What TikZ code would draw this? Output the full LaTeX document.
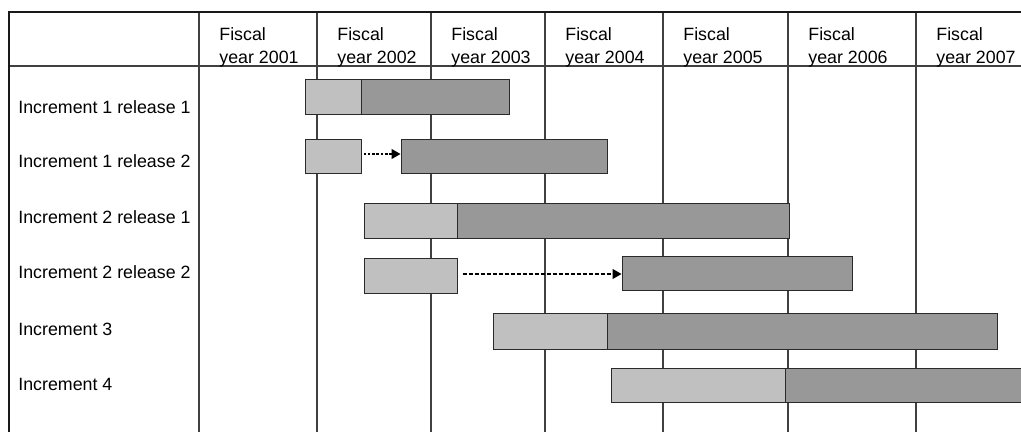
\documentclass[tikz,border=0pt]{standalone}
\usepackage{fontspec}
\setmainfont{Liberation Sans}
\usetikzlibrary{fit,arrows.meta}
\definecolor{lgray}{HTML}{C0C0C0}
\definecolor{dgray}{HTML}{989898}
\definecolor{edge}{HTML}{2A2A2A}
\begin{document}
\begin{tikzpicture}[x=0.5pt,y=-0.5pt,
  frame/.style={line width=1pt, draw=black!90},
  gridline/.style={line width=0.55pt, draw=black!75},
  lightbar/.style={draw=edge, fill=lgray, line width=0.5pt, inner sep=0pt},
  darkbar/.style={draw=edge, fill=dgray, line width=0.5pt, inner sep=0pt},
  hdr/.style={anchor=north west, inner sep=0pt, align=left, font=\fontsize{8.9}{11.5}\selectfont},
  rowlab/.style={anchor=west, inner sep=0pt, font=\fontsize{8.9}{11.5}\selectfont},
  delay/.style={line width=0.65pt, -{Triangle[length=4.5pt,width=5pt]}},
  ]
\useasboundingbox (0,0) rectangle (1021,432);
\fill[white] (0,0) rectangle (1021,432);
% grid
\foreach \x in {199,317,431,545,663,788,916}
  \draw[gridline] (\x,12) -- (\x,432);
\draw[gridline] (9,66) -- (1021,66);
\draw[frame] (9,432) -- (9,12) -- (1021,12);
% headers
\node[hdr] (h1) at (219,27) {Fiscal\\year 2001};
\node[hdr] (h2) at (337,27) {Fiscal\\year 2002};
\node[hdr] (h3) at (451,27) {Fiscal\\year 2003};
\node[hdr] (h4) at (565,27) {Fiscal\\year 2004};
\node[hdr] (h5) at (683,27) {Fiscal\\year 2005};
\node[hdr] (h6) at (808,27) {Fiscal\\year 2006};
\node[hdr] (h7) at (936,27) {Fiscal\\year 2007};
% row labels
\node[rowlab] (r1) at (18,107) {Increment 1 release 1};
\node[rowlab] (r2) at (18,161) {Increment 1 release 2};
\node[rowlab] (r3) at (18,217) {Increment 2 release 1};
\node[rowlab] (r4) at (18,272) {Increment 2 release 2};
\node[rowlab] (r5) at (18,329) {Increment 3};
\node[rowlab] (r6) at (18,384) {Increment 4};
% bars
\node[lightbar, fit={(305,80) (361,115)}] (l1) {};
\node[darkbar,  fit={(361,80) (509,115)}] (d1) {};
\node[lightbar, fit={(305,140) (361,174)}] (l2) {};
\node[darkbar,  fit={(401,140) (607,174)}] (d2) {};
\node[lightbar, fit={(364,204) (457,239)}] (l3) {};
\node[darkbar,  fit={(457,204) (789,239)}] (d3) {};
\node[lightbar, fit={(364,259) (457,294)}] (l4) {};
\node[darkbar,  fit={(622,257) (852,291)}] (d4) {};
\node[lightbar, fit={(493,314) (607,349)}] (l5) {};
\node[darkbar,  fit={(607,314) (997,349)}] (d5) {};
\node[lightbar, fit={(611,368) (785,402)}] (l6) {};
\node[darkbar,  fit={(785,368) (1025,402)}] (d6) {};
% delays
\draw[delay, dash pattern=on 1.3pt off 0.85pt] ([xshift=1pt]l2.east |- 0,154) -- (d2.west |- 0,154);
\draw[delay, dash pattern=on 2pt off 1pt] ([xshift=2.5pt]l4.east |- 0,274) -- (d4.west |- 0,274);
\end{tikzpicture}
\end{document}
